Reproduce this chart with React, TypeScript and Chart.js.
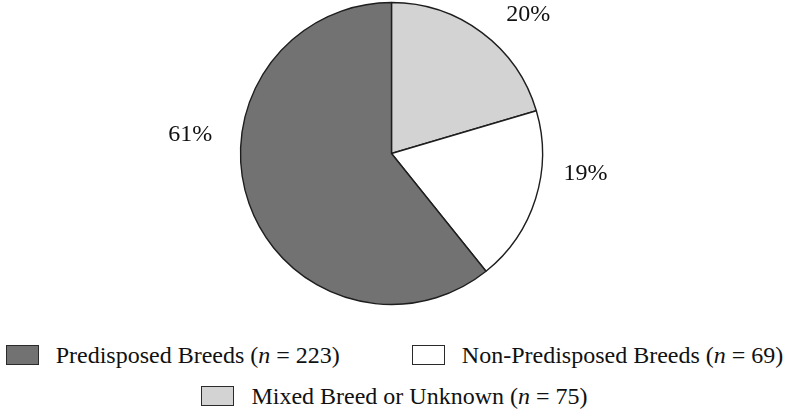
import React, { useEffect, useRef } from "react";
import { Chart, registerables } from "chart.js";

Chart.register(...registerables);

// Data (pie order, clockwise from 12 o'clock)
const sliceLabels = ["Mixed Breed or Unknown", "Non-Predisposed Breeds", "Predisposed Breeds"];
const sliceCounts = [75, 69, 223];
const sliceColors = ["#d3d3d3", "#ffffff", "#727272"];
const percentLabels = ["20%", "19%", "61%"];
// label placement (degrees from 3 o'clock, clockwise) and distance beyond the rim
const labelAngles = [-45.5, 6, 185.2];
const labelGaps = [44, 44, 51];

// Legend order
const legendOrder = [2, 1, 0];

const FONT = "'Liberation Serif', 'Times New Roman', serif";

const pctLabelPlugin = {
  id: "pctLabels",
  afterDatasetsDraw(chart: any) {
    const meta = chart.getDatasetMeta(0);
    const ctx = chart.ctx;
    ctx.save();
    ctx.font = `24px ${FONT}`;
    ctx.fillStyle = "#111";
    ctx.textAlign = "center";
    ctx.textBaseline = "middle";
    meta.data.forEach((arc: any, i: number) => {
      const a = (labelAngles[i] * Math.PI) / 180;
      const r = arc.outerRadius + labelGaps[i];
      ctx.fillText(percentLabels[i], arc.x + r * Math.cos(a), arc.y + r * Math.sin(a));
    });
    ctx.restore();
  },
};

export default function App() {
  const ref = useRef<HTMLCanvasElement>(null);
  useEffect(() => {
    if (!ref.current) return;
    const chart = new Chart(ref.current, {
      type: "pie",
      data: {
        labels: sliceLabels,
        datasets: [
          {
            data: sliceCounts,
            backgroundColor: sliceColors,
            borderColor: "#1e1e1e",
            borderWidth: 1.4,
          },
        ],
      },
      options: {
        responsive: true,
        maintainAspectRatio: false,
        animation: false,
        radius: 151,
        layout: { padding: { left: 0, right: 6, top: 0, bottom: 13 } },
        plugins: {
          legend: { display: false },
          tooltip: { enabled: false },
        },
      } as any,
      plugins: [pctLabelPlugin],
    });
    return () => chart.destroy();
  }, []);

  const item = (idx: number) => (
    <div key={idx} style={{ display: "flex", alignItems: "center" }}>
      <div
        style={{
          width: 31,
          height: 18,
          background: sliceColors[idx],
          border: "1.5px solid #2a2a2a",
          marginRight: 17,
          boxSizing: "content-box",
        }}
      />
      <span style={{ fontSize: 24, lineHeight: "26px", color: "#111", whiteSpace: "nowrap" }}>
        {sliceLabels[idx]} (<i>n</i> = {sliceCounts[idx]})
      </span>
    </div>
  );

  return (
    <div
      style={{
        position: "fixed",
        left: 0,
        top: 0,
        width: 789,
        height: 411,
        background: "#fff",
        fontFamily: FONT,
        overflow: "hidden",
      }}
    >
      <div style={{ position: "absolute", left: 0, top: 0, width: 789, height: 320 }}>
        <canvas ref={ref} />
      </div>
      <div
        style={{
          position: "absolute",
          left: 0,
          top: 342,
          width: 789,
          display: "flex",
          flexWrap: "wrap",
          justifyContent: "center",
          columnGap: 72,
          rowGap: 15,
        }}
      >
        {legendOrder.map((i) => item(i))}
      </div>
    </div>
  );
}
